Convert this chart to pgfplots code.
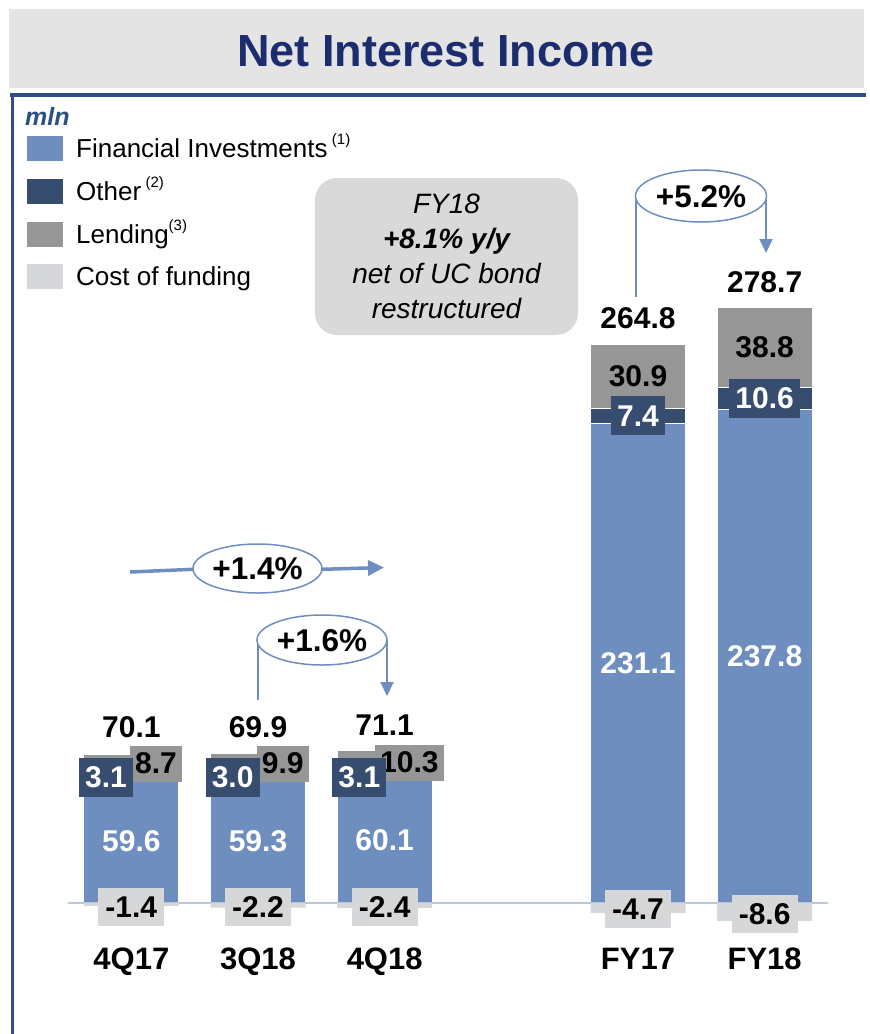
\documentclass[border=0pt]{standalone}
\usepackage{pgfplots}
\pgfplotsset{compat=1.18}
\usepackage{fontspec}
\setmainfont{Liberation Sans}
\usetikzlibrary{arrows.meta}
\definecolor{cFI}{RGB}{110,142,191}
\definecolor{cOther}{RGB}{55,77,111}
\definecolor{cLend}{RGB}{150,150,150}
\definecolor{cCost}{RGB}{214,215,217}
\definecolor{cTitle}{RGB}{27,45,110}
\definecolor{cFrame}{RGB}{43,79,134}
\definecolor{cBase}{RGB}{184,199,224}
\definecolor{cBand}{RGB}{228,228,228}
\definecolor{cCall}{RGB}{217,217,217}
\newcommand{\lblfont}{\fontsize{30}{34}\selectfont\bfseries}
\newcommand{\catfont}{\fontsize{31}{35}\selectfont\bfseries}
\newcommand{\legfont}{\fontsize{26}{30}\selectfont}
\newcommand{\supfont}{\fontsize{15}{17}\selectfont}
\newcommand{\callfont}{\fontsize{28}{35}\selectfont\itshape}
\newcommand{\pctfont}{\fontsize{31.5}{35}\selectfont\bfseries}
\tikzset{
  otherbox/.style={fill=cOther, text=white, font=\lblfont, minimum height=39pt, inner xsep=6pt, inner ysep=0pt},
  lendbox/.style={fill=cLend, text=black, font=\lblfont, minimum height=36pt, inner xsep=5pt, inner ysep=0pt},
  costbox/.style={fill=cCost, text=black, font=\lblfont, minimum height=38pt, inner xsep=7pt, inner ysep=0pt},
  fil/.style={text=white, font=\lblfont},
  tot/.style={text=black, font=\lblfont},
}
\begin{document}
\begin{tikzpicture}
\useasboundingbox (0,0) rectangle (870pt,-1034pt);
\begin{scope}[x=1pt,y=-1pt]
  % header band
  \fill[cBand] (9,9) rectangle (864,88);
  \node[anchor=base, text=cTitle, font=\fontsize{45}{50}\selectfont\bfseries] at (446,66) {Net Interest Income};
  % frame
  \draw[cFrame, line width=3.5pt] (10,95) -- (866,95);
  \draw[cFrame, line width=3.5pt] (12.5,93.5) -- (12.5,1034);
  % unit
  \node[anchor=base west, text=cFrame, font=\fontsize{25}{28}\selectfont\bfseries\itshape, inner sep=0pt] at (25,125) {mln};
  % legend
  \fill[cFI]    (27,136) rectangle (63,161);
  \fill[cOther] (27,179) rectangle (63,204);
  \fill[cLend]  (27,222) rectangle (63,247);
  \fill[cCost]  (27,264) rectangle (63,289);
  \node[anchor=base west, inner sep=0pt, font=\legfont] at (76,157.5) {Financial Investments\,\raisebox{0.5em}{\supfont(1)}};
  \node[anchor=base west, inner sep=0pt, font=\legfont] at (76,200.5) {Other\,\raisebox{0.5em}{\supfont(2)}};
  \node[anchor=base west, inner sep=0pt, font=\legfont] at (76,243.5) {Lending\raisebox{0.5em}{\supfont(3)}};
  \node[anchor=base west, inner sep=0pt, font=\legfont] at (76,285.5) {Cost of funding};
  % callout
  \fill[cCall, rounded corners=22pt] (315,178) rectangle (578,335);
  \node[anchor=base, font=\callfont, inner sep=0pt] at (446.5,213) {FY18};
  \node[anchor=base, font=\callfont\bfseries, inner sep=0pt] at (446.5,248) {+8.1\% y/y};
  \node[anchor=base, font=\callfont, inner sep=0pt] at (446.5,283) {net of UC bond};
  \node[anchor=base, font=\callfont, inner sep=0pt] at (446.5,318) {restructured};
\end{scope}

% stacked positive components
\begin{axis}[
  at={(68pt,-944.5pt)}, anchor=south west,
  scale only axis, width=760pt, height=664pt,
  xmin=-0.5, xmax=5.5, ymin=-20, ymax=300,
  axis line style={draw=none}, tick style={draw=none},
  ytick=\empty,
  xtick={0,1,2,4,5},
  xticklabels={4Q17,3Q18,4Q18,FY17,FY18},
  xticklabel style={font=\catfont, text=black},
  ybar stacked, bar width=95pt,
  clip=false,
]
\draw[cBase, line width=1.5pt] (axis cs:-0.5,0) -- (axis cs:5.5,0);
\addplot[fill=cFI, draw=white, line width=1.2pt] coordinates {(0,59.6) (1,59.3) (2,60.1) (4,231.1) (5,237.8)};
\addplot[fill=cOther, draw=white, line width=1.2pt] coordinates {(0,3.1) (1,3.0) (2,3.1) (4,7.4) (5,10.6)};
\addplot[fill=cLend, draw=white, line width=1.2pt] coordinates {(0,8.7) (1,9.9) (2,10.3) (4,30.9) (5,38.8)};
\end{axis}

% cost of funding (negative) and labels
\begin{axis}[
  at={(68pt,-944.5pt)}, anchor=south west,
  scale only axis, width=760pt, height=664pt,
  xmin=-0.5, xmax=5.5, ymin=-20, ymax=300,
  hide axis,
  ybar, bar width=95pt, bar shift=0pt,
  clip=false,
]
\addplot[fill=cCost, draw=none] coordinates {(0,-1.4) (1,-2.2) (2,-2.4) (4,-4.7) (5,-8.6)};
% financial investments labels
\node[fil] at (axis cs:0,29.8) {59.6};
\node[fil] at (axis cs:1,29.65) {59.3};
\node[fil] at (axis cs:2,30.05) {60.1};
\node[fil] at (axis cs:4,115.55) {231.1};
\node[fil] at (axis cs:5,118.9) {237.8};
% lending labels
\node[lendbox] at (axis cs:0.195,67.2) {8.7};
\node[lendbox] at (axis cs:1.195,67.2) {9.9};
\node[lendbox] at (axis cs:2.195,67.7) {10.3};
\node[tot] at (axis cs:4,254) {30.9};
\node[tot] at (axis cs:5,267.8) {38.8};
% other labels
\node[otherbox] at (axis cs:-0.2,60.5) {3.1};
\node[otherbox] at (axis cs:0.8,60.5) {3.0};
\node[otherbox] at (axis cs:1.8,60.5) {3.1};
\node[otherbox] at (axis cs:4,234.8) {7.4};
\node[otherbox] at (axis cs:5,243.1) {10.6};
% cost labels
\node[costbox] at (axis cs:0,-1.9) {-1.4};
\node[costbox] at (axis cs:1,-1.9) {-2.2};
\node[costbox] at (axis cs:2,-1.9) {-2.4};
\node[costbox] at (axis cs:4,-2.9) {-4.7};
\node[costbox] at (axis cs:5,-5.3) {-8.6};
% totals
\node[tot] at (axis cs:0,84.8) {70.1};
\node[tot] at (axis cs:1,84.8) {69.9};
\node[tot] at (axis cs:2,85.5) {71.1};
\node[tot] at (axis cs:4,281.7) {264.8};
\node[tot] at (axis cs:5,299.3) {278.7};
\end{axis}

\begin{scope}[x=1pt,y=-1pt]
  % +1.4%
  \draw[cFI, line width=3.5pt] (130,572) -- (200,569);
  \draw[cFI, line width=3.5pt, -{Triangle[length=16pt,width=15pt]}] (315,569.5) -- (384,567.5);
  \draw[cFI, line width=1.5pt, fill=white] (257.5,568.5) ellipse [x radius=64.5pt, y radius=24.5pt];
  \node[font=\pctfont] at (257.5,569) {+1.4\%};
  % +1.6%
  \draw[cFI, line width=2pt] (257.5,640) -- (257.5,700);
  \draw[cFI, line width=2pt, -{Triangle[length=14pt,width=13pt]}] (387,640) -- (387,696);
  \draw[cFI, line width=1.5pt, fill=white] (322,640) ellipse [x radius=65pt, y radius=25pt];
  \node[font=\pctfont] at (322,640.5) {+1.6\%};
  % +5.2%
  \draw[cFI, line width=2pt] (636,196) -- (636,297);
  \draw[cFI, line width=2pt, -{Triangle[length=14pt,width=13pt]}] (766,196) -- (766,253);
  \draw[cFI, line width=1.5pt, fill=white] (701,196) ellipse [x radius=65.5pt, y radius=26pt];
  \node[font=\pctfont] at (701,196.5) {+5.2\%};
\end{scope}
\end{tikzpicture}
\end{document}
